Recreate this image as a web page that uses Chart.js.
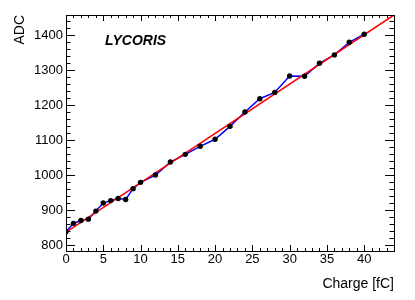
<!DOCTYPE html>
<html>
<head>
<meta charset="utf-8">
<script src="https://cdn.jsdelivr.net/npm/chart.js@4/dist/chart.umd.min.js"></script>
<style>
  html, body { margin: 0; padding: 0; background: #fff; }
  #wrap { width: 415px; height: 300px; }
</style>
</head>
<body>
<div id="wrap"><canvas id="grafica"></canvas></div>
<script>
// datos
const charge = [0, 1, 2, 3, 4, 5, 6, 7, 8, 9, 10, 12, 14, 16, 18, 20, 22, 24, 26, 28, 30, 32, 34, 36, 38, 40];
const adc = [839, 863, 871, 875, 898, 921, 928, 934, 931, 962, 980, 1001, 1038, 1060, 1083, 1103, 1140, 1181, 1219, 1237, 1284, 1283, 1320, 1344, 1380, 1403];
const fitX = [0, 44];
const fitY = [838, 1458];
const xTicks = [0, 5, 10, 15, 20, 25, 30, 35, 40];
const yTicks = [800, 900, 1000, 1100, 1200, 1300, 1400];

const fuente = "'Liberation Sans', Arial, sans-serif";

function puntos(xs, ys) {
    return xs.map((x, i) => ({x: x, y: ys[i]}));
}

// marco y marcas hacia dentro, estilo ROOT
const marco = {
    id: 'marco',
    afterDraw(chart) {
        const ctx = chart.ctx;
        const a = chart.chartArea;
        const sx = chart.scales.x;
        const sy = chart.scales.y;
        ctx.save();
        ctx.strokeStyle = '#000';
        ctx.lineWidth = 1;
        ctx.strokeRect(a.left + 0.5, a.top + 0.5, a.right - a.left, a.bottom - a.top);
        ctx.beginPath();
        for (let v = Math.ceil(sx.min); v <= sx.max; v += 1) {
            const px = Math.round(sx.getPixelForValue(v)) + 0.5;
            const len = v % 5 === 0 ? 6 : 3;
            ctx.moveTo(px, a.bottom); ctx.lineTo(px, a.bottom - len);
            ctx.moveTo(px, a.top); ctx.lineTo(px, a.top + len);
        }
        for (let v = Math.ceil(sy.min / 20) * 20; v <= sy.max; v += 20) {
            const py = Math.round(sy.getPixelForValue(v)) + 0.5;
            const len = v % 100 === 0 ? 9 : 4.5;
            ctx.moveTo(a.left, py); ctx.lineTo(a.left + len, py);
            ctx.moveTo(a.right, py); ctx.lineTo(a.right - len, py);
        }
        ctx.stroke();
        ctx.font = 'italic bold 14px ' + fuente;
        ctx.fillStyle = '#000';
        ctx.textBaseline = 'middle';
        ctx.fillText('LYCORIS', 105, 41);
        ctx.restore();
    }
};

const ctx = document.getElementById('grafica');
const chart = new Chart(ctx, {
    type: 'scatter',
    data: {
        datasets: [{
            label: 'puntos',
            data: puntos(charge, adc),
            showLine: false,
            pointRadius: 2.7,
            pointBackgroundColor: '#000',
            pointBorderWidth: 0,
            order: 0
        }, {
            label: 'ajuste',
            data: puntos(fitX, fitY),
            showLine: true,
            borderColor: '#ff0000',
            borderWidth: 1.6,
            pointRadius: 0,
            order: 1
        }, {
            label: 'linea',
            data: puntos(charge, adc),
            showLine: true,
            borderColor: '#0000ff',
            borderWidth: 1.5,
            pointRadius: 0,
            order: 2
        }]
    },
    options: {
        responsive: true,
        maintainAspectRatio: false,
        animation: false,
        layout: { padding: { top: 15, right: 21, left: 0, bottom: 0 } },
        plugins: { legend: { display: false }, tooltip: { enabled: false } },
        scales: {
            x: {
                type: 'linear',
                min: 0,
                max: 44,
                afterBuildTicks: s => { s.ticks = xTicks.map(v => ({value: v})); },
                afterFit: s => { s.height = 49; },
                grid: { display: false, drawTicks: false, tickLength: 0 },
                border: { display: false },
                ticks: { color: '#000', padding: 1, maxRotation: 0, autoSkip: false, callback: v => String(v), font: { family: fuente, size: 13 } },
                title: { display: true, text: 'Charge [fC]', align: 'end', color: '#000', padding: { top: 0, bottom: 7 }, font: { family: fuente, size: 14 } }
            },
            y: {
                type: 'linear',
                min: 784,
                max: 1458,
                afterBuildTicks: s => { s.ticks = yTicks.map(v => ({value: v})); },
                afterFit: s => { s.width = 66; },
                grid: { display: false, drawTicks: false, tickLength: 0 },
                border: { display: false },
                ticks: { color: '#000', padding: 3, autoSkip: false, callback: v => String(v), font: { family: fuente, size: 13 } },
                title: { display: true, text: 'ADC', align: 'end', color: '#000', padding: { top: 12, bottom: 0 }, font: { family: fuente, size: 14 } }
            }
        }
    },
    plugins: [marco]
});
</script>
</body>
</html>
